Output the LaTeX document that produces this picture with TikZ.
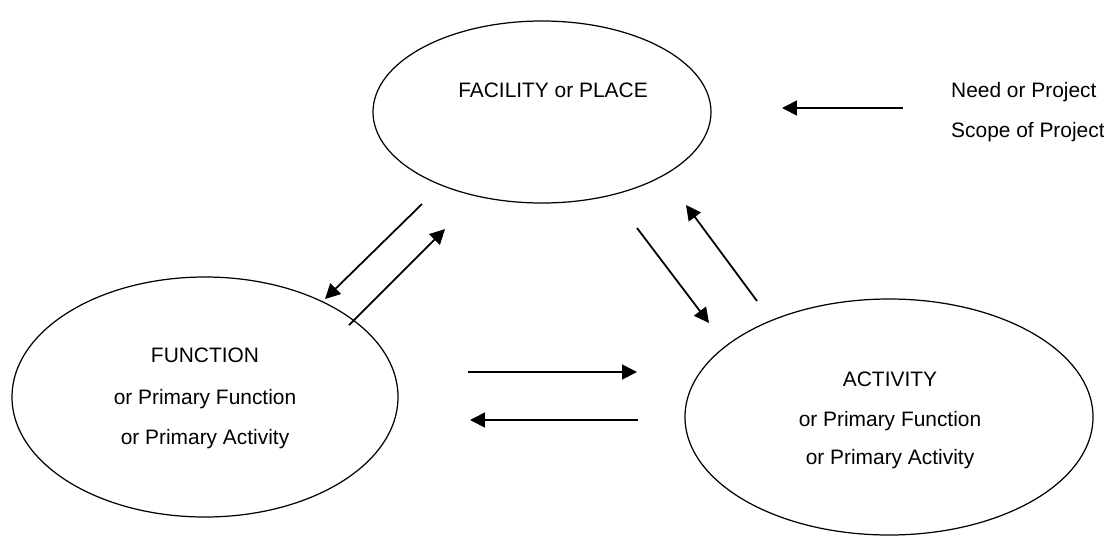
\documentclass[tikz,border=0pt]{standalone}
\usepackage{fontspec}
\setmainfont{Liberation Sans}
\usetikzlibrary{shapes.geometric,arrows.meta}
\begin{document}
\begin{tikzpicture}[
    oval/.style={draw,ellipse,line width=0.7pt,inner sep=0pt},
    txt/.style={anchor=base,font=\fontsize{11.9}{14}\selectfont},
    flow/.style={line width=1pt,-{Triangle[length=8.5pt,width=8.5pt]}}]
    
    \useasboundingbox (0,0) rectangle (22.08,-10.7);
    
    \node[oval,minimum width=6.76cm,minimum height=3.64cm] (P) at (10.84,-2.24) {};
    \node[txt] (P1) at (11.06,-1.94) {FACILITY or PLACE};
    
    \node[oval,minimum width=7.72cm,minimum height=4.8cm] (F) at (4.10,-7.94) {};
    \node[txt] (F1) at (4.10,-7.24) {FUNCTION};
    \node[txt] (F2) at (4.10,-8.08) {or Primary Function};
    \node[txt] (F3) at (4.10,-8.88) {or Primary Activity};
    
    \node[oval,minimum width=8.16cm,minimum height=4.72cm] (A) at (17.78,-8.34) {};
    \node[txt] (A1) at (17.80,-7.72) {ACTIVITY};
    \node[txt] (A2) at (17.80,-8.52) {or Primary Function};
    \node[txt] (A3) at (17.80,-9.28) {or Primary Activity};
    
    \node[txt,anchor=base west] (N1) at (18.90,-1.94) {Need or Project};
    \node[txt,anchor=base west] (N2) at (18.90,-2.74) {Scope of Project};
    
    % arrow ends
    \coordinate (n0) at (18.06,-2.16);
    \coordinate (n1) at (15.64,-2.16);
    \coordinate (pf0) at (8.44,-4.08);
    \coordinate (pf1) at (6.50,-5.98);
    \coordinate (fp0) at (6.98,-6.50);
    \coordinate (fp1) at (8.90,-4.58);
    \coordinate (pa0) at (12.74,-4.56);
    \coordinate (pa1) at (14.18,-6.46);
    \coordinate (ap0) at (15.14,-6.02);
    \coordinate (ap1) at (13.72,-4.10);
    \coordinate (fa0) at (9.36,-7.44);
    \coordinate (fa1) at (12.74,-7.44);
    \coordinate (af0) at (12.76,-8.40);
    \coordinate (af1) at (9.40,-8.40);
    
    \draw[flow] (n0) -- (n1);
    \draw[flow] (pf0) -- (pf1);
    \draw[flow] (fp0) -- (fp1);
    \draw[flow] (pa0) -- (pa1);
    \draw[flow] (ap0) -- (ap1);
    \draw[flow] (fa0) -- (fa1);
    \draw[flow] (af0) -- (af1);
    
\end{tikzpicture}
\end{document}
